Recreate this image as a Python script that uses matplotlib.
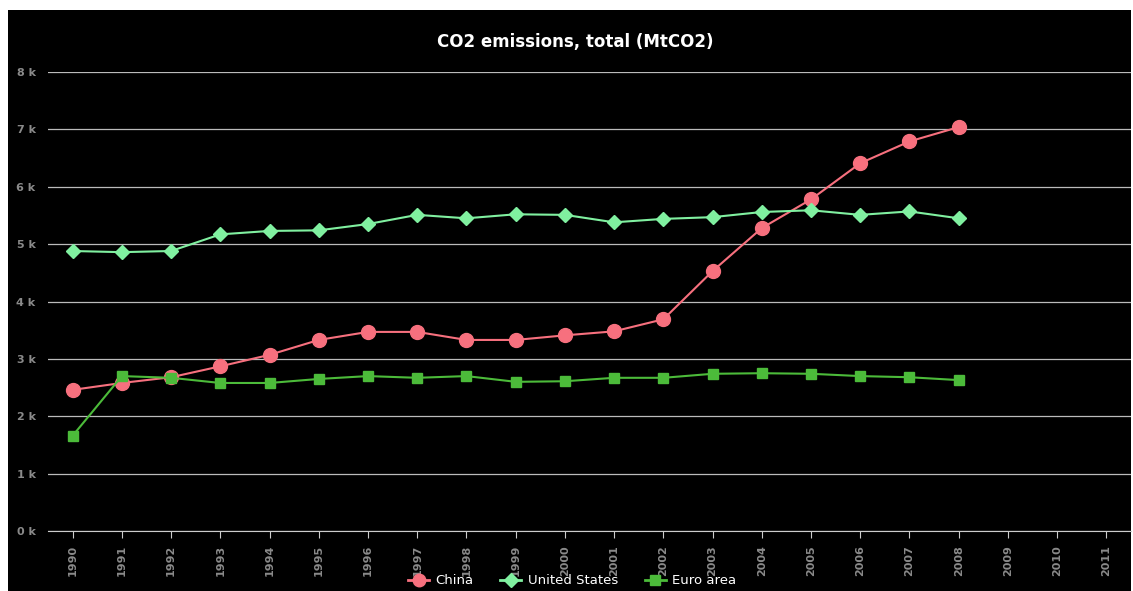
import matplotlib.pyplot as plt
from matplotlib.patches import Rectangle
from matplotlib.lines import Line2D

years = list(range(1990, 2012))
data_years = list(range(1990, 2009))

china = [2460, 2580, 2680, 2870, 3070, 3330, 3470, 3470, 3330, 3330,
         3410, 3480, 3690, 4530, 5280, 5780, 6410, 6790, 7040]
usa = [4880, 4860, 4880, 5170, 5230, 5240, 5350, 5510, 5450, 5520,
       5510, 5380, 5440, 5470, 5560, 5590, 5510, 5570, 5450]
euro = [1660, 2700, 2670, 2580, 2580, 2650, 2700, 2670, 2700, 2600,
        2610, 2670, 2670, 2740, 2750, 2740, 2700, 2680, 2630]

W, H = 1133, 591
fig = plt.figure(figsize=(W / 100, H / 100), dpi=100, facecolor='white')
# black panel
fig.patches.append(Rectangle((8 / W, 0), (1131 - 8) / W, (591 - 10) / H,
                             transform=fig.transFigure, facecolor='black',
                             edgecolor='none', zorder=-5))

ax = fig.add_axes([48 / W, 1 - 531 / H, (1131 - 48) / W, (531 - 72) / H])
ax.set_zorder(2)
ax.set_facecolor('black')

ax.plot(data_years, china, color='#f7707e', marker='o', markersize=10,
        linewidth=1.5, label='China', zorder=3)
ax.plot(data_years, usa, color='#80f0a0', marker='D', markersize=7,
        linewidth=1.5, label='United States', zorder=3)
ax.plot(data_years, euro, color='#4cbb3a', marker='s', markersize=7,
        linewidth=1.5, label='Euro area', zorder=3)

ax.set_xlim(1989.5, 2011.5)
ax.set_ylim(0, 8000)
ax.set_xticks(years)
ax.set_xticklabels([str(y) for y in years], rotation=90, fontsize=8,
                   fontweight='bold', color='#8a8a8a')
ax.set_yticks(range(0, 8001, 1000))
ax.set_yticklabels(['%d k' % (v // 1000) for v in range(0, 8001, 1000)],
                   fontsize=8, fontweight='bold', color='#8a8a8a')
ax.grid(axis='y', color='#bbbbbb', linewidth=0.9)
ax.set_axisbelow(True)
for s in ['top', 'right', 'left']:
    ax.spines[s].set_visible(False)
ax.spines['bottom'].set_color('#cccccc')
ax.tick_params(axis='x', length=5, color='#cccccc', pad=5)
ax.tick_params(axis='y', length=0, pad=9)

fig.text(0.508, 1 - 42 / H, 'CO2 emissions, total (MtCO2)', ha='center',
         va='center', color='white', fontsize=12, fontweight='bold')

handles = [Line2D([], [], color='#f7707e', marker='o', markersize=9, linewidth=2),
           Line2D([], [], color='#80f0a0', marker='D', markersize=7, linewidth=2),
           Line2D([], [], color='#4cbb3a', marker='s', markersize=7, linewidth=2)]
leg = fig.legend(handles, ['China', 'United States', 'Euro area'], loc='center',
                 bbox_to_anchor=(0.505, 1 - 581 / H), ncol=3, frameon=False,
                 fontsize=9.5, labelcolor='white', handlelength=1.6,
                 columnspacing=2.0, handletextpad=0.5)

fig.savefig('out.png', dpi=100, facecolor='white')
